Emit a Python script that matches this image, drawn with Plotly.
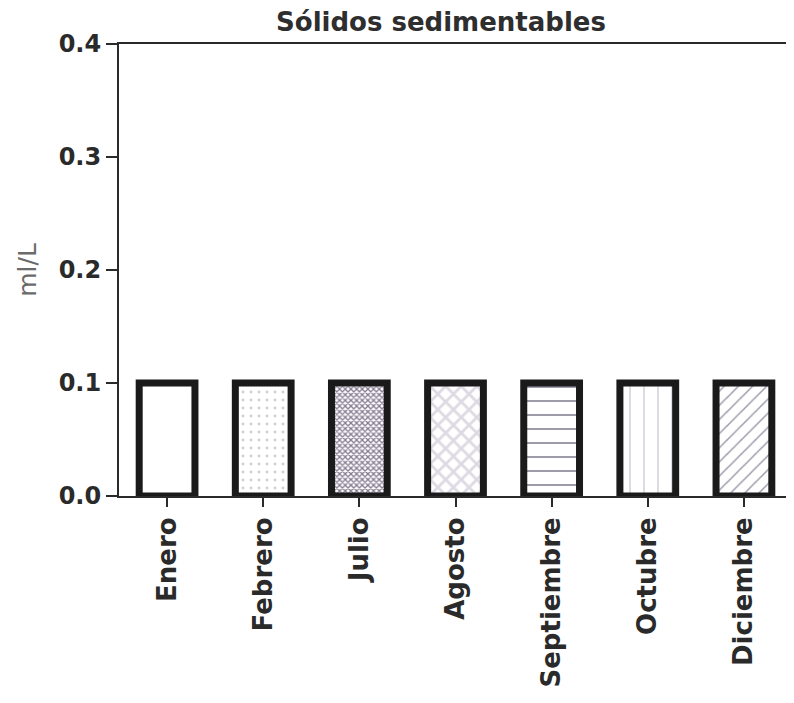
import plotly.graph_objects as go

months = ["Enero", "Febrero", "Julio", "Agosto", "Septiembre", "Octubre", "Diciembre"]
values = [0.1, 0.1, 0.1, 0.1, 0.1, 0.1, 0.1]
y_ticks = [0.0, 0.1, 0.2, 0.3, 0.4]
y_tick_labels = ["0.0", "0.1", "0.2", "0.3", "0.4"]

pattern_shapes = ["", ".", "x", "x", "-", "|", "/"]
pattern_colors = ["#ffffff", "#d2ced6", "#857a90", "#dedae4", "#8e8898", "#c4c0cc", "#a09aaa"]
pattern_sizes = [8, 8, 4, 11, 14, 14, 10]
pattern_solidity = [0.0, 0.1, 0.55, 0.45, 0.12, 0.08, 0.15]

fig = go.Figure()
fig.add_trace(go.Bar(
    x=months,
    y=values,
    width=0.58,
    marker=dict(
        color="#ffffff",
        line=dict(color="#1a1a1a", width=7),
        pattern=dict(
            shape=pattern_shapes,
            fgcolor=pattern_colors,
            bgcolor="#ffffff",
            size=pattern_sizes,
            solidity=pattern_solidity,
            fillmode="replace",
        ),
    ),
    showlegend=False,
))

font_family = "DejaVu Sans"

# page body adds an 8px offset; margins compensate for it
fig.update_layout(
    width=794,
    height=703,
    margin=dict(l=111, r=10, t=36, b=215, autoexpand=False),
    paper_bgcolor="#ffffff",
    plot_bgcolor="#ffffff",
    title=dict(
        text="<b>Sólidos sedimentables</b>",
        font=dict(family=font_family, size=26, color="#2e2e2e"),
        x=433 / 794,
        xref="container",
        xanchor="center",
        y=1 - 14 / 703,
        yref="container",
        yanchor="middle",
    ),
)

fig.update_xaxes(
    range=[-0.5, 6.5],
    automargin=False,
    showline=True,
    linecolor="#2a2a2a",
    linewidth=2,
    mirror=True,
    ticks="outside",
    ticklen=9,
    tickwidth=2,
    tickcolor="#2a2a2a",
    tickangle=-90,
    tickfont=dict(family=font_family, size=26, color="#2a2a2a"),
    tickprefix="<b>",
    ticksuffix="</b>",
    showgrid=False,
    zeroline=False,
)

fig.update_yaxes(
    range=[0, 0.4],
    automargin=False,
    tickvals=y_ticks,
    ticktext=["<b>" + t + "</b>" for t in y_tick_labels],
    showline=True,
    linecolor="#2a2a2a",
    linewidth=2,
    ticks="outside",
    ticklen=11,
    tickwidth=2,
    tickcolor="#2a2a2a",
    tickfont=dict(family=font_family, size=24, color="#2a2a2a"),
    showgrid=False,
    zeroline=False,
    title=dict(text="ml/L", font=dict(family=font_family, size=25, color="#6a6a6a"), standoff=15),
)

fig.write_html("out.html")
